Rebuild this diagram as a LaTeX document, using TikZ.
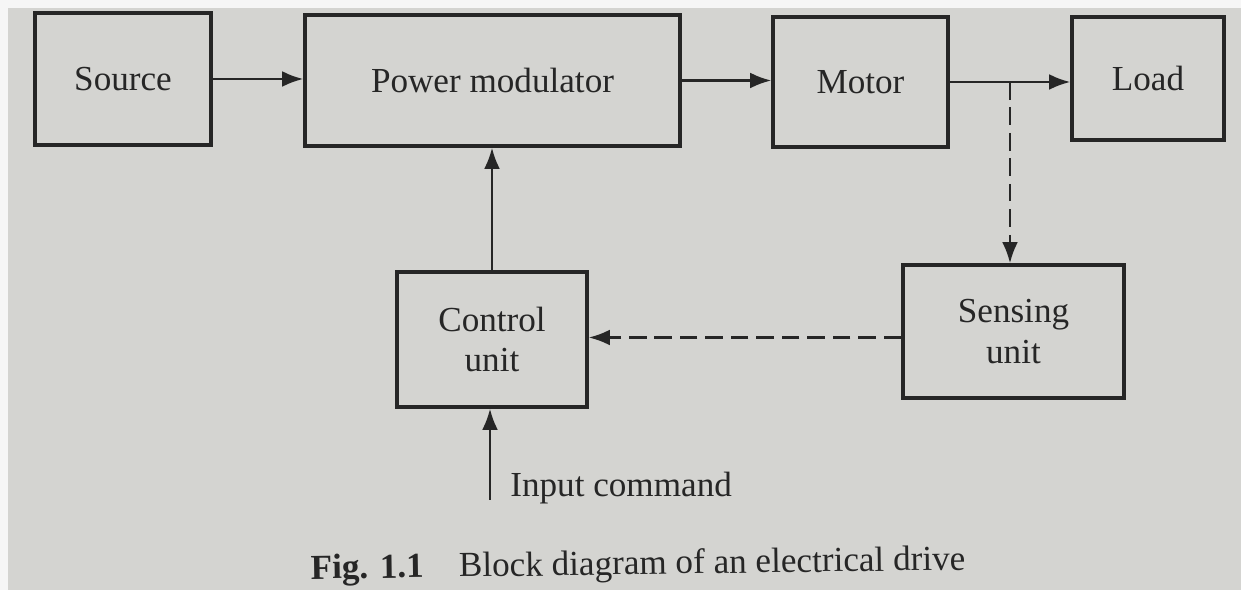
\documentclass[tikz,border=0pt]{standalone}
\usepackage{fontspec}
\setmainfont{Liberation Serif}
\usetikzlibrary{arrows.meta,calc}
\definecolor{paper}{RGB}{212,212,209}
\definecolor{ink}{RGB}{38,38,38}
\tikzset{
  blk/.style={draw=ink, line width=2pt, rectangle, align=center, text=ink,
    font=\fontsize{20}{23}\selectfont, inner sep=0pt},
  conn/.style={draw=ink, line width=1.4pt, -{Latex[length=12pt,width=9pt]}},
  dconn/.style={conn, dash pattern=on 10pt off 4.5pt},
  lbl/.style={text=ink, font=\fontsize{20}{23}\selectfont, inner sep=0pt}
}
\begin{document}
\begin{tikzpicture}[x=0.02cm,y=-0.02cm]
\useasboundingbox (0,0) rectangle (1241,590);
\fill[paper] (0,0) rectangle (1241,590);
\fill[white!80!paper] (0,0) rectangle (1241,8);
\fill[white!80!paper] (0,0) rectangle (8,590);
\node[blk, minimum width=3.52cm, minimum height=2.64cm] (Source) at (123,79) {Source};
\node[blk, minimum width=7.5cm, minimum height=2.62cm] (PM) at (492.5,80.5) {Power modulator};
\node[blk, minimum width=3.5cm, minimum height=2.6cm] (Motor) at (860.5,82) {Motor};
\node[blk, minimum width=3.04cm, minimum height=2.46cm] (Load) at (1148,78.5) {Load};
\node[blk, minimum width=3.8cm, minimum height=2.7cm] (Control) at (492,339.5) {Control\\unit};
\node[blk, minimum width=4.42cm, minimum height=2.66cm] (Sensing) at (1013.5,331.5) {Sensing\\unit};
\node[lbl, anchor=west] (Input) at (510,488) {Input command};
\node[lbl] (Caption) at (638,566) [rotate=0.8] {\textbf{Fig. 1.1}\quad Block diagram of an electrical drive};
\coordinate (br) at (1010,82);
\coordinate (sl) at ($(Sensing.west)+(0,6)$);
\coordinate (cl) at (sl -| Control.east);
\coordinate (ic) at (490,500);
\draw[conn] (Source.east) -- (Source.east -| PM.west);
\draw[conn] (PM.east) -- (PM.east -| Motor.west);
\draw[conn] (Motor.east) -- (Motor.east -| Load.west);
\draw[conn] (Control.north) -- (Control.north |- PM.south);
\draw[dconn] (br) -- (br |- Sensing.north);
\draw[dconn] (sl) -- (cl);
\draw[conn] (ic) -- (ic |- Control.south);
\end{tikzpicture}
\end{document}
